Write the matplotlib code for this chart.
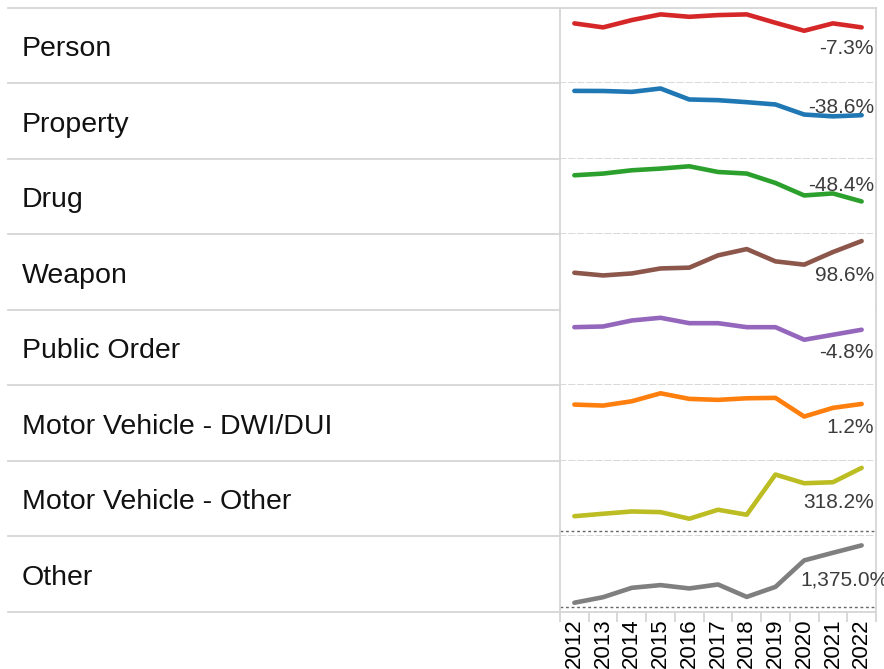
import numpy as np
import matplotlib.pyplot as plt
from matplotlib.lines import Line2D

plt.rcParams["font.family"] = "Liberation Sans"

years = list(range(2012, 2023))
categories = ["Person", "Property", "Drug", "Weapon", "Public Order",
              "Motor Vehicle - DWI/DUI", "Motor Vehicle - Other", "Other"]

person = [5510, 5110, 5840, 6410, 6170, 6340, 6410, 5570, 4770, 5510, 5108]
property_ = [12620, 12600, 12420, 13100, 10900, 10760, 10360, 9900, 7880, 7520, 7749]
drug = [5420, 5590, 5920, 6090, 6320, 5750, 5590, 4650, 3400, 3600, 2797]
weapon = [644, 590, 630, 730, 746, 992, 1118, 872, 806, 1058, 1279]
public_order = [5330, 5400, 6000, 6270, 5730, 5730, 5330, 5330, 4070, 4570, 5074]
dwi = [5140, 5040, 5470, 6270, 5710, 5610, 5770, 5810, 3940, 4810, 5202]
mv_other = [330, 383, 433, 418, 275, 470, 362, 1235, 1046, 1068, 1380]
other = [40, 93, 183, 209, 177, 215, 96, 192, 446, 519, 590]
series = [person, property_, drug, weapon, public_order, dwi, mv_other, other]

change_labels = ["-7.3%", "-38.6%", "-48.4%", "98.6%", "-4.8%", "1.2%", "318.2%", "1,375.0%"]

colors = ["#d62728", "#1f77b4", "#2ca02c", "#8c564b", "#9467bd", "#ff7f0e", "#bcbd22", "#7f7f7f"]
ymax = [7100, 14200, 7100, 1420, 7100, 7100, 1540, 680]
label_y = [0.48, 0.70, 0.67, 0.473, 0.454, 0.467, 0.47, 0.447]

W, H = 884, 669
top_px, bot_px = 7.5, 611.5
left_px, right_px = 560, 876
row_h = (bot_px - top_px) / len(categories)
grid_c = "#d6d6d6"

fig = plt.figure(figsize=(W / 100, H / 100), dpi=100)

for i, (cat, vals) in enumerate(zip(categories, series)):
    y0 = top_px + (i + 1) * row_h
    ax = fig.add_axes([left_px / W, 1 - y0 / H, (right_px - left_px) / W, row_h / H])
    ax.plot(years, vals, color=colors[i], lw=3.3,
            solid_capstyle="round", solid_joinstyle="round")
    ax.set_xlim(2011.5, 2022.5)
    ax.set_ylim(-0.065 * ymax[i], ymax[i])
    ax.set_yticks([])

    for s in ["left", "right"]:
        ax.spines[s].set_color(grid_c)
        ax.spines[s].set_linewidth(1.3)
    ax.spines["top"].set_visible(i == 0)
    ax.spines["top"].set_color(grid_c)
    ax.spines["top"].set_linewidth(1.3)
    ax.spines["bottom"].set_color(grid_c)
    ax.spines["bottom"].set_linewidth(1.3)
    if i < len(categories) - 1:
        ax.spines["bottom"].set_linestyle((0, (3, 2)))

    # zero line
    if i >= 6:
        ax.axhline(0, color="#666666", lw=1, ls=(0, (2, 2)))

    if i == len(categories) - 1:
        ax.text(0.7595, label_y[i], change_labels[i], transform=ax.transAxes,
                ha="left", va="center_baseline", fontsize=15, color="#3c3c3c",
                clip_on=False)
    else:
        ax.text(0.9937, label_y[i], change_labels[i], transform=ax.transAxes,
                ha="right", va="center_baseline", fontsize=15, color="#3c3c3c")

    if i == len(categories) - 1:
        ax.set_xticks(years)
        ax.set_xticklabels([str(y) for y in years], rotation=90, fontsize=16)
        ax.set_xticks(np.arange(2011.5, 2023, 1), minor=True)
        ax.tick_params(axis="x", which="major", length=0, pad=5)
        ax.tick_params(axis="x", which="minor", length=7, width=1.3, color=grid_c)
    else:
        ax.set_xticks([])

    # left column label
    fig.text(22 / W, 1 - (top_px + i * row_h + 0.645 * row_h) / H, cat,
             fontsize=20.5, va="baseline", color="#111111")

# left column row dividers
for k in range(len(categories) + 1):
    y = 1 - (top_px + k * row_h) / H
    fig.add_artist(Line2D([8 / W, left_px / W], [y, y], color=grid_c, lw=1.3))

fig.savefig("out.png", dpi=100)
